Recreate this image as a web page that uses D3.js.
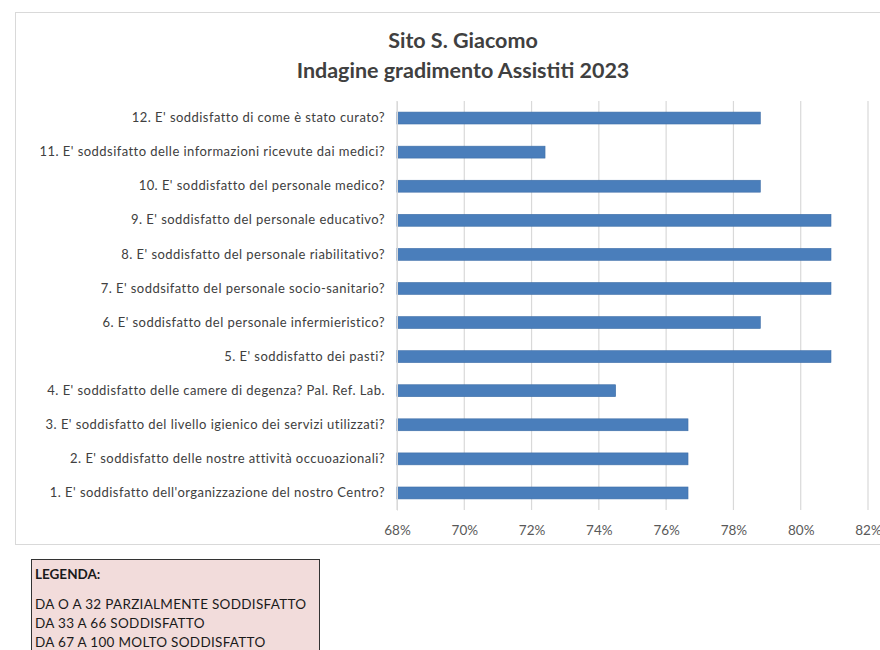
<!DOCTYPE html>
<html>
<head>
<meta charset="utf-8">
<script src="https://cdn.jsdelivr.net/npm/d3@7"></script>
<style>
  body { margin: 0; background: #fff; }
  svg { display: block; font-family: Lato, "Open Sans", sans-serif; }
</style>
</head>
<body>
<svg id="chart" width="880" height="650"></svg>
<script>
const questions = [
  "1. E' soddisfatto dell'organizzazione del nostro Centro?",
  "2. E' soddisfatto delle nostre attività occuoazionali?",
  "3. E' soddisfatto del livello igienico dei servizi utilizzati?",
  "4. E' soddisfatto delle camere di degenza? Pal. Ref. Lab.",
  "5. E' soddisfatto dei pasti?",
  "6. E' soddisfatto del personale infermieristico?",
  "7. E' soddsifatto del personale socio-sanitario?",
  "8. E' soddisfatto del personale riabilitativo?",
  "9.  E' soddisfatto del personale educativo?",
  "10. E' soddisfatto del personale medico?",
  "11. E' soddsifatto delle informazioni ricevute dai medici?",
  "12. E' soddisfatto di come è stato curato?"
];
const scores = [76.65, 76.65, 76.65, 74.5, 80.9, 78.8, 80.9, 80.9, 80.9, 78.8, 72.4, 78.8];
const xTicks = [68, 70, 72, 74, 76, 78, 80, 82];
const titleLines = ["Sito S. Giacomo", "Indagine gradimento Assistiti 2023"];
const legendLines = ["DA O A 32 PARZIALMENTE  SODDISFATTO", "DA 33 A 66 SODDISFATTO", "DA 67 A 100 MOLTO SODDISFATTO"];

const data = questions.map((q, i) => ({ label: q, value: scores[i] }));

const svg = d3.select("#chart");

// chart frame
svg.append("rect")
   .attr("x", 15.5).attr("y", 12.5)
   .attr("width", 880).attr("height", 532)
   .attr("fill", "#fff")
   .attr("stroke", "#d9d9d9");

// title
svg.selectAll("text.title")
   .data(titleLines)
   .enter().append("text")
   .attr("class", "title")
   .attr("x", 463)
   .attr("y", (d, i) => 48 + i * 30)
   .attr("text-anchor", "middle")
   .attr("font-size", 21.5)
   .attr("font-weight", "bold")
   .attr("fill", "#404040")
   .text(d => d);

const xScale = d3.scaleLinear()
                 .domain([68, 82])
                 .range([397, 868]);

const yScale = d3.scaleBand()
                 .domain(questions.slice().reverse())
                 .range([101, 510])
                 .paddingInner(0.65)
                 .paddingOuter(0.325);

// gridlines
svg.append("g")
   .selectAll("line")
   .data(xTicks)
   .enter().append("line")
   .attr("x1", d => xScale(d)).attr("x2", d => xScale(d))
   .attr("y1", 101).attr("y2", 510)
   .attr("stroke", "#d9d9d9")
   .attr("stroke-width", 1.2);

// x axis labels
const xAxis = svg.append("g")
   .attr("transform", "translate(0,510)")
   .call(d3.axisBottom(xScale).tickValues(xTicks).tickSize(0).tickPadding(15).tickFormat(d => d + "%"));
xAxis.select(".domain").remove();
xAxis.selectAll("text")
     .attr("font-size", 13.5)
     .attr("font-family", "Lato, sans-serif")
     .attr("fill", "#595959");

// bars
svg.append("g")
   .selectAll("rect")
   .data(data)
   .enter().append("rect")
   .attr("x", xScale(68))
   .attr("y", d => yScale(d.label))
   .attr("width", d => xScale(d.value) - xScale(68))
   .attr("height", yScale.bandwidth())
   .attr("fill", "#4a7ebb")
   .attr("stroke", "#3f6fa8")
   .attr("stroke-width", 0.6);

// y axis labels
const yAxis = svg.append("g")
   .attr("transform", "translate(397,0)")
   .call(d3.axisLeft(yScale).tickSize(0).tickPadding(12));
yAxis.select(".domain").attr("stroke", "#d9d9d9");
yAxis.selectAll("text")
     .attr("font-size", 13)
     .attr("letter-spacing", 0.45)
     .attr("font-family", "Lato, sans-serif")
     .attr("fill", "#404040");

// legend box
const legend = svg.append("g");
legend.append("rect")
      .attr("x", 31.5).attr("y", 559.5)
      .attr("width", 288).attr("height", 100)
      .attr("fill", "#f2dcdb")
      .attr("stroke", "#333")
      .attr("stroke-width", 1);
legend.append("text")
      .attr("x", 35).attr("y", 579)
      .attr("font-size", 13.5)
      .attr("font-weight", "bold")
      .attr("fill", "#1a1a1a")
      .text("LEGENDA:");
legend.selectAll("text.line")
      .data(legendLines)
      .enter().append("text")
      .attr("class", "line")
      .attr("x", 35)
      .attr("y", (d, i) => 609 + i * 19)
      .attr("font-size", 13.5)
      .attr("letter-spacing", 0.3)
      .attr("fill", "#1a1a1a")
      .text(d => d);
</script>
</body>
</html>
